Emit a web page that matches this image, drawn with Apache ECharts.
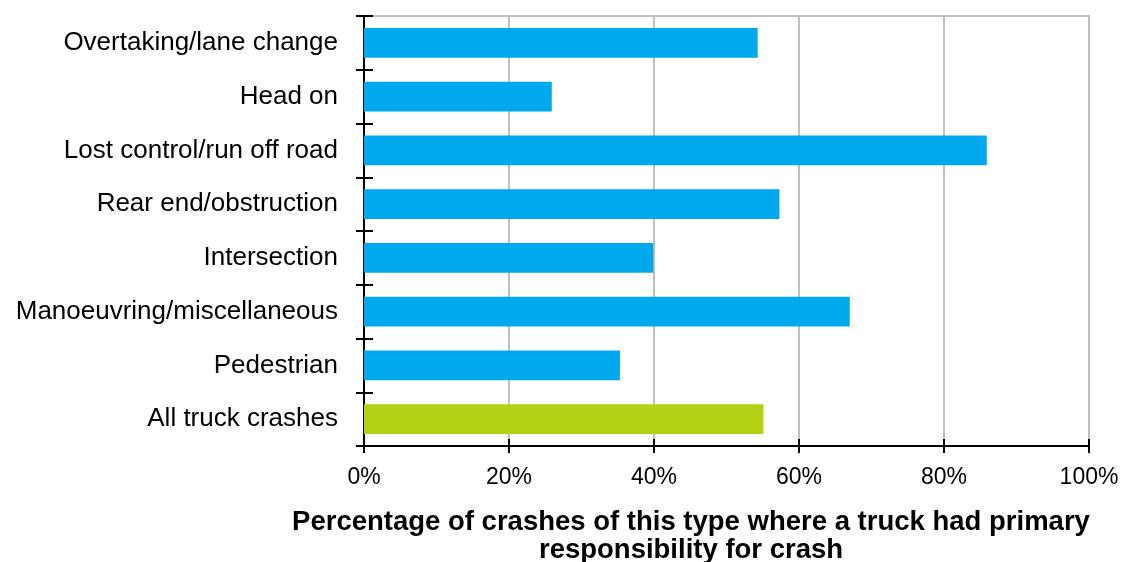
<!DOCTYPE html>
<html>
<head>
<meta charset="utf-8">
<style>
  html, body { margin: 0; padding: 0; background: #ffffff; }
  #chart { width: 1122px; height: 562px; }
</style>
<script src="https://cdn.jsdelivr.net/npm/echarts@6/dist/echarts.min.js"></script>
</head>
<body>
<div id="chart"></div>
<script>
// Crash types, top to bottom
const categories = [
  'Overtaking/lane change',
  'Head on',
  'Lost control/run off road',
  'Rear end/obstruction',
  'Intersection',
  'Manoeuvring/miscellaneous',
  'Pedestrian',
  'All truck crashes'
];
// Share of crashes (%) where a truck had primary responsibility
const truckShare = [54.3, 25.9, 85.9, 57.3, 39.9, 67.0, 35.3, 55.1];
// Which rows are the overall total (drawn in green)
const isTotal = [false, false, false, false, false, false, false, true];
const xTicks = [0, 20, 40, 60, 80, 100];
const xTitle = 'Percentage of crashes of this type where a truck had primary\nresponsibility for crash';

const BLUE = '#00A9EE';
const GREEN = '#B3D014';
const FONT = '"Liberation Sans", Arial, sans-serif';

const chart = echarts.init(document.getElementById('chart'), null, { renderer: 'canvas' });

const axisBlack = { show: true, lineStyle: { color: '#000000', width: 2 } };

chart.setOption({
  animation: false,
  backgroundColor: '#ffffff',
  grid: {
    left: 364, width: 725, top: 16, height: 430,
    containLabel: false,
    outerBoundsMode: 'none',
    show: true, borderColor: '#c0c0c0', borderWidth: 2, backgroundColor: 'transparent'
  },
  xAxis: [
    {
      type: 'value', min: xTicks[0], max: xTicks[xTicks.length - 1], interval: 20,
      position: 'bottom',
      axisLine: axisBlack,
      axisTick: { show: true, inside: false, length: 7, lineStyle: { color: '#000', width: 2 } },
      axisLabel: {
        formatter: '{value}%', margin: 20, color: '#000',
        fontFamily: FONT, fontSize: 23
      },
      splitLine: { show: true, lineStyle: { color: '#c0c0c0', width: 2 } },
      name: xTitle,
      nameLocation: 'middle',
      nameGap: 62,
      nameTextStyle: {
        fontFamily: FONT, fontSize: 27.5, fontWeight: 'bold', color: '#000',
        lineHeight: 28, align: 'center', verticalAlign: 'top', padding: [0, 71, 0, 0]
      }
    },
    {
      // inner half of the crossing tick marks
      type: 'value', min: xTicks[0], max: xTicks[xTicks.length - 1], interval: 20,
      position: 'bottom', gridIndex: 0,
      axisLine: { show: false },
      axisTick: { show: true, inside: true, length: 7, lineStyle: { color: '#000', width: 2 } },
      axisLabel: { show: false },
      splitLine: { show: false }
    }
  ],
  yAxis: [
    {
      type: 'category', data: categories, inverse: true,
      axisLine: axisBlack,
      axisTick: { show: true, inside: false, length: 8, lineStyle: { color: '#000', width: 2 } },
      axisLabel: { color: '#000', fontFamily: FONT, fontSize: 26, margin: 26, padding: [4, 0, 0, 0] },
      splitLine: { show: false }
    },
    {
      type: 'category', data: categories, inverse: true, position: 'left',
      axisLine: { show: false },
      axisTick: { show: true, inside: true, length: 9, lineStyle: { color: '#000', width: 2 } },
      axisLabel: { show: false },
      splitLine: { show: false }
    }
  ],
  series: [
    {
      type: 'bar',
      xAxisIndex: 0, yAxisIndex: 0,
      barCategoryGap: '45%',
      data: truckShare.map((v, i) => ({
        value: v,
        itemStyle: { color: isTotal[i] ? GREEN : BLUE }
      })),
      label: { show: false }
    }
  ]
});
</script>
</body>
</html>
